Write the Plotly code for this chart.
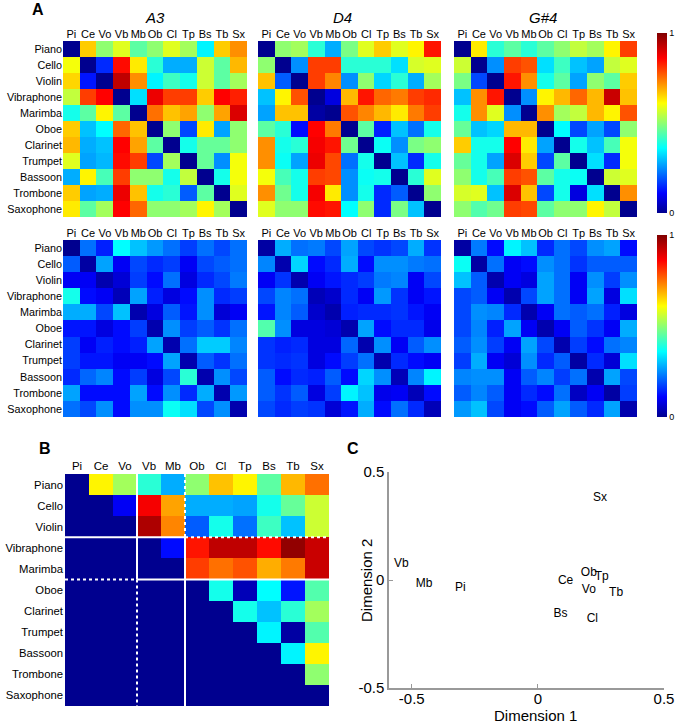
import plotly.graph_objects as go

W, H = 681, 723

abbr = ["Pi", "Ce", "Vo", "Vb", "Mb", "Ob", "Cl", "Tp", "Bs", "Tb", "Sx"]
names = ["Piano", "Cello", "Violin", "Vibraphone", "Marimba", "Oboe",
         "Clarinet", "Trumpet", "Bassoon", "Trombone", "Saxophone"]

# Panel A, top row: mean dissimilarity per pitch
a3_mean = [
    [0.00, 0.66, 0.50, 0.58, 0.45, 0.50, 0.58, 0.52, 0.35, 0.66, 0.72],
    [0.60, 0.00, 0.15, 0.85, 0.63, 0.40, 0.28, 0.28, 0.56, 0.45, 0.68],
    [0.65, 0.13, 0.00, 0.93, 0.72, 0.35, 0.42, 0.38, 0.56, 0.45, 0.52],
    [0.55, 0.80, 0.86, 0.00, 0.33, 0.88, 0.80, 0.80, 0.66, 0.86, 0.83],
    [0.38, 0.45, 0.62, 0.45, 0.00, 0.75, 0.67, 0.70, 0.50, 0.70, 0.90],
    [0.66, 0.30, 0.36, 0.76, 0.67, 0.00, 0.50, 0.18, 0.63, 0.27, 0.50],
    [0.68, 0.28, 0.30, 0.86, 0.70, 0.45, 0.00, 0.38, 0.46, 0.46, 0.50],
    [0.58, 0.27, 0.29, 0.85, 0.80, 0.18, 0.52, 0.00, 0.46, 0.25, 0.60],
    [0.28, 0.62, 0.43, 0.80, 0.50, 0.50, 0.38, 0.55, 0.00, 0.38, 0.60],
    [0.66, 0.27, 0.28, 0.88, 0.67, 0.38, 0.40, 0.20, 0.45, 0.00, 0.58],
    [0.63, 0.45, 0.52, 0.86, 0.76, 0.50, 0.50, 0.52, 0.62, 0.52, 0.00],
]
d4_mean = [
    [0.00, 0.50, 0.52, 0.40, 0.28, 0.48, 0.58, 0.66, 0.58, 0.62, 0.84],
    [0.50, 0.00, 0.25, 0.80, 0.80, 0.40, 0.40, 0.40, 0.33, 0.57, 0.58],
    [0.67, 0.20, 0.00, 0.80, 0.73, 0.25, 0.50, 0.32, 0.40, 0.28, 0.52],
    [0.30, 0.62, 0.78, 0.00, 0.08, 0.68, 0.84, 0.76, 0.74, 0.80, 0.82],
    [0.27, 0.67, 0.67, 0.02, 0.00, 0.78, 0.73, 0.68, 0.63, 0.74, 0.80],
    [0.45, 0.40, 0.12, 0.86, 0.74, 0.00, 0.45, 0.14, 0.30, 0.22, 0.38],
    [0.72, 0.38, 0.40, 0.87, 0.84, 0.47, 0.00, 0.37, 0.25, 0.48, 0.50],
    [0.72, 0.37, 0.27, 0.88, 0.79, 0.22, 0.38, 0.00, 0.30, 0.15, 0.38],
    [0.60, 0.43, 0.38, 0.80, 0.79, 0.25, 0.37, 0.38, 0.00, 0.40, 0.58],
    [0.72, 0.47, 0.38, 0.87, 0.63, 0.25, 0.38, 0.15, 0.20, 0.00, 0.50],
    [0.58, 0.50, 0.50, 0.85, 0.84, 0.36, 0.50, 0.15, 0.48, 0.30, 0.00],
]
gs4_mean = [
    [0.00, 0.63, 0.40, 0.45, 0.40, 0.45, 0.50, 0.55, 0.52, 0.62, 0.80],
    [0.56, 0.00, 0.25, 0.80, 0.78, 0.33, 0.42, 0.30, 0.27, 0.55, 0.58],
    [0.48, 0.18, 0.00, 0.84, 0.72, 0.38, 0.45, 0.27, 0.50, 0.45, 0.66],
    [0.30, 0.72, 0.84, 0.00, 0.25, 0.62, 0.68, 0.76, 0.68, 0.92, 0.67],
    [0.38, 0.72, 0.58, 0.25, 0.00, 0.72, 0.52, 0.55, 0.68, 0.62, 0.78],
    [0.46, 0.30, 0.32, 0.68, 0.68, 0.00, 0.36, 0.18, 0.27, 0.18, 0.50],
    [0.66, 0.38, 0.38, 0.86, 0.63, 0.27, 0.00, 0.38, 0.30, 0.43, 0.60],
    [0.46, 0.38, 0.27, 0.90, 0.66, 0.18, 0.45, 0.00, 0.33, 0.15, 0.60],
    [0.50, 0.38, 0.43, 0.80, 0.78, 0.45, 0.38, 0.37, 0.00, 0.56, 0.58],
    [0.57, 0.58, 0.30, 0.90, 0.67, 0.18, 0.38, 0.08, 0.33, 0.00, 0.72],
    [0.50, 0.44, 0.47, 0.80, 0.79, 0.45, 0.50, 0.50, 0.62, 0.55, 0.00],
]

# Panel A, bottom row: spread (standard error) per pitch
a3_sem = [
    [0.00, 0.22, 0.14, 0.36, 0.30, 0.26, 0.22, 0.17, 0.22, 0.18, 0.22],
    [0.20, 0.02, 0.27, 0.10, 0.18, 0.15, 0.17, 0.10, 0.18, 0.20, 0.22],
    [0.10, 0.10, 0.03, 0.07, 0.17, 0.12, 0.22, 0.08, 0.15, 0.18, 0.23],
    [0.38, 0.12, 0.10, 0.04, 0.27, 0.14, 0.08, 0.12, 0.25, 0.15, 0.17],
    [0.28, 0.28, 0.18, 0.30, 0.03, 0.08, 0.20, 0.13, 0.25, 0.07, 0.10],
    [0.13, 0.13, 0.08, 0.12, 0.17, 0.03, 0.25, 0.17, 0.20, 0.16, 0.22],
    [0.17, 0.10, 0.14, 0.12, 0.14, 0.27, 0.03, 0.22, 0.31, 0.31, 0.24],
    [0.17, 0.13, 0.13, 0.10, 0.10, 0.12, 0.27, 0.03, 0.20, 0.16, 0.22],
    [0.15, 0.21, 0.24, 0.12, 0.17, 0.08, 0.18, 0.40, 0.03, 0.25, 0.18],
    [0.27, 0.12, 0.12, 0.12, 0.27, 0.12, 0.25, 0.15, 0.28, 0.03, 0.26],
    [0.22, 0.18, 0.25, 0.12, 0.25, 0.25, 0.37, 0.33, 0.18, 0.25, 0.03],
]
d4_sem = [
    [0.02, 0.28, 0.22, 0.23, 0.18, 0.27, 0.18, 0.16, 0.18, 0.28, 0.16],
    [0.24, 0.03, 0.32, 0.12, 0.15, 0.28, 0.12, 0.25, 0.25, 0.23, 0.22],
    [0.10, 0.16, 0.03, 0.10, 0.13, 0.15, 0.17, 0.23, 0.24, 0.10, 0.18],
    [0.18, 0.24, 0.22, 0.04, 0.06, 0.15, 0.10, 0.26, 0.16, 0.10, 0.13],
    [0.13, 0.24, 0.20, 0.06, 0.03, 0.14, 0.15, 0.15, 0.16, 0.13, 0.10],
    [0.44, 0.25, 0.08, 0.08, 0.07, 0.03, 0.27, 0.12, 0.15, 0.15, 0.09],
    [0.16, 0.14, 0.15, 0.08, 0.08, 0.21, 0.03, 0.25, 0.10, 0.20, 0.25],
    [0.16, 0.15, 0.16, 0.08, 0.12, 0.17, 0.22, 0.03, 0.15, 0.12, 0.10],
    [0.20, 0.12, 0.15, 0.14, 0.20, 0.12, 0.32, 0.25, 0.04, 0.24, 0.35],
    [0.20, 0.16, 0.20, 0.08, 0.17, 0.35, 0.30, 0.09, 0.10, 0.04, 0.12],
    [0.18, 0.15, 0.17, 0.16, 0.07, 0.13, 0.28, 0.12, 0.22, 0.15, 0.04],
]
gs4_sem = [
    [0.02, 0.23, 0.12, 0.35, 0.30, 0.15, 0.22, 0.18, 0.25, 0.27, 0.12],
    [0.37, 0.02, 0.22, 0.10, 0.12, 0.25, 0.22, 0.16, 0.20, 0.20, 0.20],
    [0.30, 0.20, 0.03, 0.10, 0.08, 0.27, 0.22, 0.10, 0.25, 0.17, 0.25],
    [0.18, 0.20, 0.10, 0.03, 0.18, 0.27, 0.22, 0.10, 0.27, 0.08, 0.33],
    [0.18, 0.25, 0.24, 0.15, 0.03, 0.10, 0.22, 0.20, 0.22, 0.14, 0.08],
    [0.18, 0.24, 0.14, 0.27, 0.10, 0.03, 0.10, 0.20, 0.16, 0.10, 0.28],
    [0.20, 0.25, 0.17, 0.10, 0.27, 0.18, 0.03, 0.17, 0.12, 0.22, 0.24],
    [0.17, 0.28, 0.10, 0.07, 0.25, 0.15, 0.20, 0.02, 0.15, 0.07, 0.33],
    [0.24, 0.25, 0.25, 0.10, 0.20, 0.24, 0.17, 0.22, 0.03, 0.27, 0.18],
    [0.20, 0.24, 0.20, 0.10, 0.15, 0.12, 0.22, 0.05, 0.10, 0.02, 0.17],
    [0.26, 0.30, 0.18, 0.10, 0.12, 0.20, 0.27, 0.20, 0.15, 0.27, 0.03],
]

# Panel B: pooled dissimilarity (upper triangle)
b_matrix = [
    [0.00, 0.62, 0.52, 0.40, 0.28, 0.50, 0.67, 0.62, 0.45, 0.68, 0.75],
    [0.00, 0.00, 0.10, 0.87, 0.70, 0.28, 0.28, 0.27, 0.38, 0.46, 0.56],
    [0.00, 0.00, 0.00, 0.95, 0.73, 0.20, 0.38, 0.22, 0.42, 0.30, 0.56],
    [0.00, 0.00, 0.00, 0.00, 0.12, 0.84, 0.93, 0.93, 0.85, 0.98, 0.92],
    [0.00, 0.00, 0.00, 0.00, 0.00, 0.80, 0.75, 0.78, 0.69, 0.74, 0.92],
    [0.00, 0.00, 0.00, 0.00, 0.00, 0.00, 0.38, 0.04, 0.36, 0.13, 0.44],
    [0.00, 0.00, 0.00, 0.00, 0.00, 0.00, 0.00, 0.38, 0.30, 0.40, 0.52],
    [0.00, 0.00, 0.00, 0.00, 0.00, 0.00, 0.00, 0.00, 0.35, 0.02, 0.44],
    [0.00, 0.00, 0.00, 0.00, 0.00, 0.00, 0.00, 0.00, 0.00, 0.35, 0.62],
    [0.00, 0.00, 0.00, 0.00, 0.00, 0.00, 0.00, 0.00, 0.00, 0.00, 0.50],
    [0.00, 0.00, 0.00, 0.00, 0.00, 0.00, 0.00, 0.00, 0.00, 0.00, 0.00],
]
group_sizes = [3, 2, 6]  # piano+strings, mallets, winds

# Panel C: MDS coordinates
mds_labels = ["Pi", "Ce", "Vo", "Vb", "Mb", "Ob", "Cl", "Tp", "Bs", "Tb", "Sx"]
dim1 = [-0.307, 0.110, 0.202, -0.541, -0.451, 0.202, 0.216, 0.253, 0.090, 0.310, 0.246]
dim2 = [-0.039, -0.005, -0.046, 0.074, -0.019, 0.034, -0.181, 0.015, -0.159, -0.059, 0.378]

pitch_titles = ["A3", "D4", "G#4"]

jet = [[0.0, "#00008F"], [0.11, "#0000FF"], [0.36, "#00FFFF"],
       [0.61, "#FFFF00"], [0.86, "#FF0000"], [1.0, "#800000"]]
FONT = "Liberation Sans, Arial, sans-serif"


def fx(px):
    return px / W


def fy(py):
    return 1 - py / H


fig = go.Figure()
layout = dict(template="none", width=W, height=H,
              margin=dict(l=0, r=0, t=0, b=0, pad=0, autoexpand=False),
              paper_bgcolor="white", plot_bgcolor="white", showlegend=False,
              font=dict(family=FONT, color="black"))

panel_x = [(63, 247), (258, 441), (454, 637)]
row_y = [(41, 217), (240, 417)]
mats = [[a3_mean, d4_mean, gs4_mean], [a3_sem, d4_sem, gs4_sem]]

ax = 0
for r in range(2):
    for c in range(3):
        ax += 1
        xs = "" if ax == 1 else str(ax)
        fig.add_trace(go.Heatmap(z=mats[r][c], x=abbr, y=names,
                                 coloraxis="coloraxis" if r == 0 else "coloraxis2",
                                 xaxis="x" + xs, yaxis="y" + xs, xgap=0, ygap=0,
                                 hoverinfo="skip"))
        layout["xaxis" + xs] = dict(domain=[fx(panel_x[c][0]), fx(panel_x[c][1])],
                                    anchor="y" + xs, side="top", showgrid=False,
                                    zeroline=False, ticks="", tickangle=0,
                                    automargin=False,
                                    tickfont=dict(size=11, family=FONT),
                                    showline=False, fixedrange=True)
        layout["yaxis" + xs] = dict(domain=[fy(row_y[r][1]), fy(row_y[r][0])],
                                    anchor="x" + xs, autorange="reversed",
                                    showgrid=False, zeroline=False, ticks="",
                                    automargin=False,
                                    showticklabels=(c == 0),
                                    tickfont=dict(size=10.8, family=FONT),
                                    showline=False, fixedrange=True)

cb_common = dict(thickness=10, lenmode="pixels", xanchor="left", x=fx(657),
                 xpad=0, ypad=0, yanchor="top", tickvals=[0, 1],
                 ticktext=["0", "1"], ticks="", tickfont=dict(size=9, family=FONT),
                 outlinewidth=0)
layout["coloraxis"] = dict(colorscale=jet, cmin=0, cmax=1,
                           colorbar=dict(cb_common, len=180, y=fy(33)))
layout["coloraxis2"] = dict(colorscale=jet, cmin=0, cmax=1,
                            colorbar=dict(cb_common, len=182, y=fy(235)))
layout["coloraxis3"] = dict(colorscale=jet, cmin=0, cmax=1, showscale=False)

# Panel B
fig.add_trace(go.Heatmap(z=b_matrix, x=abbr, y=names, coloraxis="coloraxis3",
                         xaxis="x7", yaxis="y7", hoverinfo="skip"))
layout["xaxis7"] = dict(domain=[fx(64), fx(330)], anchor="y7", side="top",
                        showgrid=False, zeroline=False, ticks="", tickangle=0,
                        automargin=False,
                        tickfont=dict(size=11.5, family=FONT), fixedrange=True)
layout["yaxis7"] = dict(domain=[fy(707), fy(473)], anchor="x7", autorange="reversed",
                        showgrid=False, zeroline=False, ticks="", automargin=False,
                        tickfont=dict(size=11.3, family=FONT), fixedrange=True)

# group boundary lines
bounds = []
acc = -0.5
for g in group_sizes[:-1]:
    acc += g
    bounds.append(acc)
lo, hi = -0.5, len(abbr) - 0.5
b1, b2 = bounds
shapes = []
line_specs = [
    (b1, lo, b1, b2, "solid"), (b1, b2, b1, hi, "dot"),
    (b2, lo, b2, b1, "dot"), (b2, b1, b2, hi, "solid"),
    (lo, b1, b2, b1, "solid"), (b2, b1, hi, b1, "dot"),
    (lo, b2, b1, b2, "dot"), (b1, b2, hi, b2, "solid"),
]
for x0, y0, x1, y1, dash in line_specs:
    shapes.append(dict(type="line", xref="x7", yref="y7", x0=x0, y0=y0, x1=x1, y1=y1,
                       line=dict(color="white", width=2, dash=dash)))
layout["shapes"] = shapes

# Panel C
fig.add_trace(go.Scatter(x=dim1, y=dim2, text=mds_labels, mode="text",
                         textposition="middle center",
                         textfont=dict(size=12, family=FONT, color="black"),
                         xaxis="x8", yaxis="y8", hoverinfo="skip"))
layout["xaxis8"] = dict(domain=[fx(389), fx(664)], anchor="y8", range=[-0.59, 0.5],
                        tickvals=[-0.5, 0, 0.5], ticktext=["-0.5", "0", "0.5"],
                        ticks="inside", ticklen=4, tickcolor="#999999",
                        showline=True, linecolor="#999999", linewidth=1.5,
                        showgrid=False, zeroline=False, automargin=False,
                        ticklabelstandoff=-4,
                        tickfont=dict(size=15, family=FONT), fixedrange=True)
layout["yaxis8"] = dict(domain=[fy(688), fy(472)], anchor="x8", range=[-0.5, 0.5],
                        tickvals=[-0.5, 0, 0.5], ticktext=["-0.5", "0", "0.5"],
                        ticks="inside", ticklen=4, tickcolor="#999999",
                        showline=True, linecolor="#999999", linewidth=1.5,
                        showgrid=False, zeroline=False, automargin=False,
                        tickfont=dict(size=15, family=FONT), fixedrange=True)

annotations = []
for lab, (px, py) in zip(["A", "B", "C"], [(38, 10), (45, 448), (353, 448)]):
    annotations.append(dict(text="<b>%s</b>" % lab, x=fx(px), y=fy(py), xref="paper",
                            yref="paper", showarrow=False, xanchor="center",
                            yanchor="middle", font=dict(size=16, family=FONT)))
for t, cx in zip(pitch_titles, [155, 342, 543]):
    annotations.append(dict(text="<i>%s</i>" % t, x=fx(cx), y=fy(17), xref="paper",
                            yref="paper", showarrow=False, xanchor="center",
                            yanchor="middle", font=dict(size=15, family=FONT)))
annotations.append(dict(text="Dimension 1", x=fx(535), y=fy(715), xref="paper",
                        yref="paper", showarrow=False, xanchor="center",
                        yanchor="middle", font=dict(size=15, family=FONT)))
annotations.append(dict(text="Dimension 2", x=fx(366), y=fy(580), xref="paper",
                        yref="paper", showarrow=False, xanchor="center",
                        yanchor="middle", textangle=-90,
                        font=dict(size=15, family=FONT)))
layout["annotations"] = annotations

fig.update_layout(**layout)
fig.write_html("out.html", config={"displayModeBar": False},
               post_script="document.body.style.margin='0px';"
                           "document.body.style.padding='0px';"
                           "document.body.style.overflow='hidden';")
